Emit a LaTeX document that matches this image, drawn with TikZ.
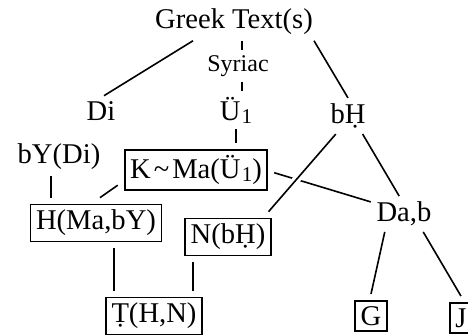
\documentclass[tikz,border=0pt]{standalone}
\usepackage{fontspec}
\setmainfont{Liberation Serif}

\newcommand{\lowsub}[1]{\kern0.6pt\raisebox{-1.5pt}{\fontsize{10.5}{11}\selectfont #1}}

\tikzset{
	lost/.style = {inner sep=2.5pt, font=\fontsize{14.3}{16}\selectfont},
	lostsmall/.style = {lost, font=\fontsize{12}{14}\selectfont},
	extant/.style = {lost, draw, thick, inner sep=2.7pt, outer sep=3.5pt},
}

\begin{document}
\begin{tikzpicture}[x=0.5pt, y=-0.5pt, thick]
\useasboundingbox (0, 0) rectangle (468, 336);

\node[lost] (greek) at (234, 22) {Greek Text(s)};
\node[lostsmall] (syriac) at (238, 66) {Syriac};
\node[lost] (u1) at (236, 110) {Ü\lowsub{1}};
\node[lost] (di) at (101, 111) {Di};
\node[lost] (bydi) at (59, 157) {bY(Di)};
\node[lost] (bh) at (348, 116) {bḤ};
\node[lost] (dab) at (404, 214) {Da,b};

\node[extant] (kma) at (196, 170) {K\kern1.5pt\textasciitilde\kern1.5pt Ma(Ü\lowsub{1})};
\node[extant] (hmab) at (96, 223) {H(Ma,bY)};
\node[extant] (nbh) at (228, 237) {N(bḤ)};
\node[extant] (thn) at (154, 316) {Ṭ(H,N)};
\node[extant] (g) at (371, 316) {G};
\node[extant] (j) at (461, 318) {J};

\draw ([xshift=-20.5pt]greek.south) -- ([xshift=1.5pt]di.north);
\draw ([xshift=4pt]greek.south) -- ([xshift=2pt]syriac.north);
\draw ([xshift=2pt]syriac.south) -- ([xshift=2pt]syriac.south |- u1.north);
\draw (u1.south) -- (u1.south |- kma.north);
\draw ([xshift=40pt]greek.south) -- (bh.north);

\draw ([xshift=-4pt]bydi.south) -- ([xshift=-4pt]bydi.south |- hmab.north);
\draw (kma.-169) -- ([xshift=2pt]hmab.north);
\draw ([xshift=9pt]hmab.south) -- ([xshift=9pt]hmab.south |- thn.north);
\draw ([xshift=-17.5pt]nbh.south) -- ([xshift=-17.5pt]nbh.south |- thn.north);

% K~Ma passes under the bH line
\draw (kma.-2) -- (dab.160);
\draw[preaction={draw=white, line width=4pt}] (bh.-124) -- (nbh.32);
\draw (bh.-51) -- (dab.105);
\draw (dab.-137) -- (g.north);
\draw (dab.-43) -- (j.north);
\end{tikzpicture}
\end{document}
